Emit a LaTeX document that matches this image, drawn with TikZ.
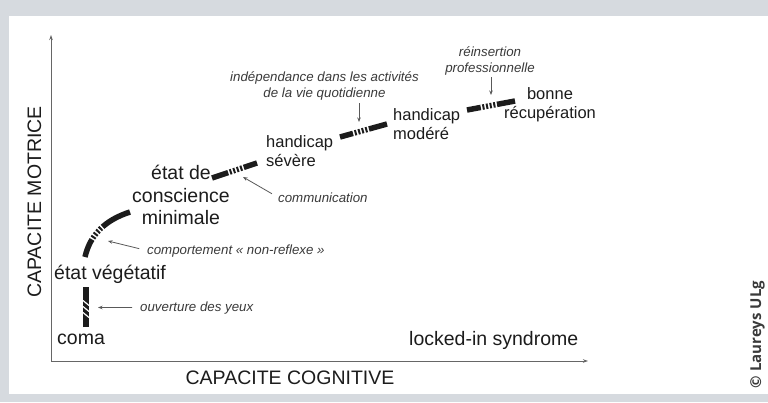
\documentclass[tikz,border=0pt]{standalone}
\usepackage{fontspec}
\setmainfont{Liberation Sans}
\newfontfamily\copyfont{Open Sans}
\usetikzlibrary{arrows.meta}

\definecolor{fond}{RGB}{214,218,223}
\definecolor{encre}{RGB}{28,28,28}
\definecolor{gris}{RGB}{58,58,58}

\tikzset{
	etat/.style		= {font=\fontsize{19.5}{22.5}\selectfont, inner sep=0pt, text=encre},
	stade/.style	= {font=\fontsize{16.5}{19.5}\selectfont, inner sep=0pt, text=encre},
	note/.style		= {font=\itshape\fontsize{13.3}{15.5}\selectfont, inner sep=0pt, text=gris},
	axe/.style		= {draw=black!60, line width=0.9pt, -{Stealth[length=5pt,width=3.5pt]}},
	fleche/.style	= {draw=black!65, line width=0.8pt, -{Stealth[length=4.5pt,width=3.5pt]}},
	trait/.style	= {line width=5.5pt, encre},
	tiret/.style 2 args = {trait, dash pattern=on #1 off 1.7pt on 2pt off 1.7pt on 2pt off 1.7pt on 2pt off 1.7pt on 2pt off 1.7pt on #2},
}

\begin{document}
\begin{tikzpicture}[x=1pt, y=-1pt]
	% Cadre
	\useasboundingbox	(0,0)	rectangle	(768,402);
	\fill [fond]		(0,0)	rectangle	(768,402);
	\fill [white]		(9,16)	rectangle	(768,394);
	% Axes
	\coordinate (O)		at (51,361);
	\coordinate (Ym)	at (51,35);
	\coordinate (Xm)	at (588,361);
	\draw [axe] (O) -- (Ym);
	\draw [axe] (O) -- (Xm);
	\node [etat, rotate=90]	(motrice)	at (34.5,202)	{CAPACITE MOTRICE};
	\node [etat]			(cognitive)	at (290,377.5)	{CAPACITE COGNITIVE};
	% Etats
	\node [etat, anchor=base west]	(coma)		at (57,344)		{coma};
	\node [etat, anchor=base west]	(veget)		at (54,279)		{état végétatif};
	\node [etat, align=center, anchor=south]	(mcs)		at (181,225)	{état de\\conscience\\minimale};
	\node [stade, align=left, anchor=south west]	(severe)	at (266,167)	{handicap\\sévère};
	\node [stade, align=left, anchor=south west]	(modere)	at (393,140)	{handicap\\modéré};
	\node [stade, align=center, anchor=south]	(bonne)		at (550,122.5)	{bonne\\récupération};
	\node [etat, anchor=base west]	(locked)	at (409,345)	{locked-in syndrome};
	% Remarques
	\node [note, anchor=base west]	(yeux)		at (140,311)	{ouverture des yeux};
	\node [note, anchor=base west]	(comport)	at (147,254)	{comportement « non-reflexe »};
	\node [note, anchor=base west]	(commu)		at (278,202)	{communication};
	\node [note, align=center, anchor=south]	(indep)	at (324.5,100)	{indépendance dans les activités\\de la vie quotidienne};
	\node [note, align=center, anchor=south]	(reins)	at (490,75)		{réinsertion\\professionnelle};
	% Trajectoire
	\coordinate (t1a) at (86,327);	\coordinate (t1b) at (86,287);
	\draw [trait] (t1a) -- (t1b);
	\foreach \y in {303,309,315}
		\draw [white, line width=1.2pt] (83,\y-2.5) -- (89,\y+2.5);
	\coordinate (t2a) at (85,257);	\coordinate (t2b) at (130,212);
	\draw [tiret={19pt}{40pt}] (t2a) .. controls (90,235) and (105,220) .. (t2b);
	\coordinate (t3a) at (212,178);	\coordinate (t3b) at (257,163);
	\draw [tiret={17pt}{20pt}] (t3a) -- (t3b);
	\coordinate (t4a) at (340,137);	\coordinate (t4b) at (387,124);
	\draw [tiret={13.5pt}{20pt}] (t4a) -- (t4b);
	\coordinate (t5a) at (467,110);	\coordinate (t5b) at (515,101);
	\draw [tiret={14pt}{20pt}] (t5a) -- (t5b);
	% Fleches
	\coordinate (pYeux)		at (98,307.5);
	\coordinate (pComp)		at (108,241);
	\coordinate (pComm)		at (243,177);
	\coordinate (pIndep)	at (359,122);
	\coordinate (pReins)	at (491,95);
	\draw [fleche, shorten <=8pt]	(yeux.west)		-- (pYeux);
	\draw [fleche, shorten <=8pt]	(comport.west)	-- (pComp);
	\draw [fleche, shorten <=7pt]	(commu.west)	-- (pComm);
	\draw [fleche, shorten <=3pt]	(pIndep |- indep.south)	-- (pIndep);
	\draw [fleche, shorten <=2pt]	(pReins |- reins.south)	-- (pReins);
	% Copyright
	\node [rotate=90, inner sep=0pt, text=gris, font=\copyfont\bfseries\fontsize{15}{18}\selectfont] (droits) at (757.5,334.5) {© Laureys ULg};
\end{tikzpicture}
\end{document}
